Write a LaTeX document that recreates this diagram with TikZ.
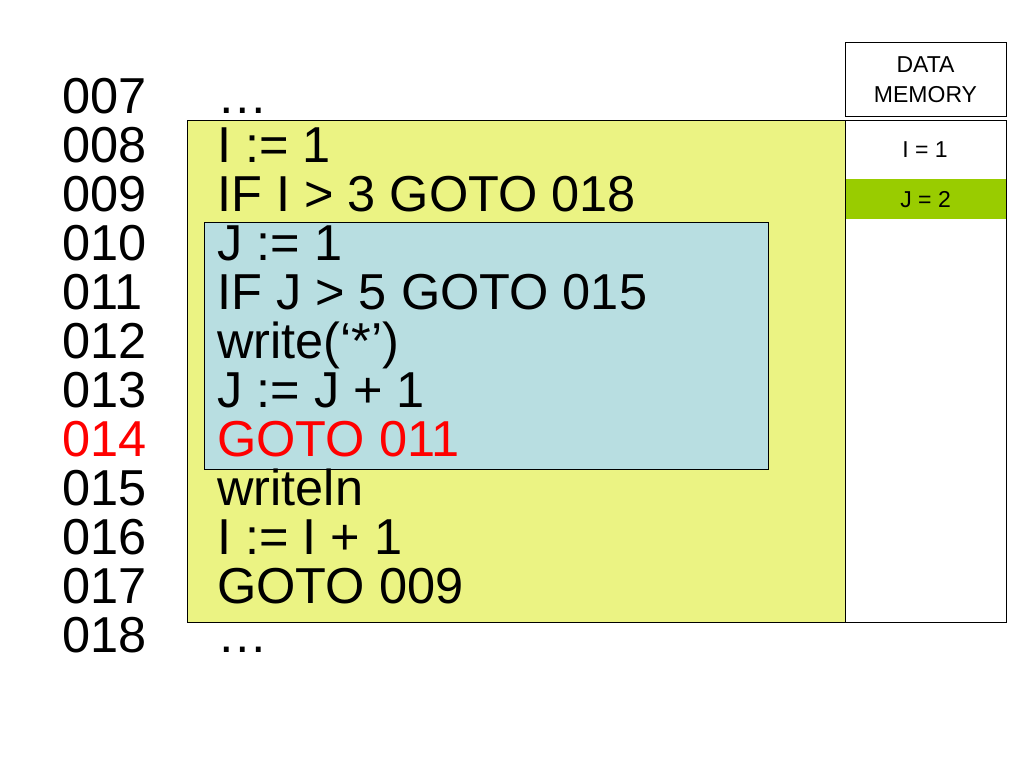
\documentclass[tikz,border=0pt]{standalone}
\usepackage{fontspec}
\setmainfont{Liberation Sans}
\definecolor{outeryellow}{HTML}{EBF383}
\definecolor{innerblue}{HTML}{B8DEE1}
\definecolor{memgreen}{HTML}{99CC00}
\definecolor{hotred}{HTML}{FF0000}
\begin{document}
\begin{tikzpicture}[x=1pt,y=-1pt,
  big/.style={anchor=base west,inner sep=0pt,font=\fontsize{50.5}{49}\selectfont},
  small/.style={inner sep=0pt,align=center,font=\fontsize{23}{30}\selectfont},
  frame/.style={draw=black,line width=0.8pt}]
\useasboundingbox (0,0) rectangle (1024,768);
\fill[white] (0,0) rectangle (1024,768);
% boxes
\node[frame,fill=outeryellow,minimum width=658pt,minimum height=502pt,anchor=north west,inner sep=0pt] (outer) at (187,120) {};
\node[frame,fill=innerblue,minimum width=564pt,minimum height=247pt,anchor=north west,inner sep=0pt] (inner) at (204,222) {};
\node[frame,fill=white,minimum width=161pt,minimum height=74pt,anchor=north west,inner sep=0pt] (head) at (845,42) {};
\node[frame,fill=white,minimum width=161pt,minimum height=502pt,anchor=north west,inner sep=0pt] (mem) at (845,120) {};
\node[fill=memgreen,minimum width=160pt,minimum height=40pt,anchor=north west,inner sep=0pt] (jrow) at (845.4,179) {};
\node[small] (headtxt) at (925.5,80) {DATA\\MEMORY};
\node[small] (ival) at (925,150) {I = 1};
\node[small] (jval) at (jrow.center) {J = 2};
% line numbers
\node[big] (n007) at (62,113) {007};
\node[big] (n008) at (62,162) {008};
\node[big] (n009) at (62,211) {009};
\node[big] (n010) at (62,260) {010};
\node[big] (n011) at (62,309) {011};
\node[big] (n012) at (62,358) {012};
\node[big] (n013) at (62,407) {013};
\node[big,text=hotred] (n014) at (62,456) {014};
\node[big] (n015) at (62,505) {015};
\node[big] (n016) at (62,554) {016};
\node[big] (n017) at (62,603) {017};
\node[big] (n018) at (62,652) {018};
% code
\node[big] (c007) at (217,113) {…};
\node[big] (c008) at (217,162) {I := 1};
\node[big] (c009) at (217,211) {IF I > 3 GOTO 018};
\node[big] (c010) at (217,260) {J := 1};
\node[big] (c011) at (217,309) {IF J > 5 GOTO 015};
\node[big] (c012) at (217,358) {write(‘*’)};
\node[big] (c013) at (217,407) {J := J + 1};
\node[big,text=hotred] (c014) at (217,456) {GOTO 011};
\node[big] (c015) at (217,505) {writeln};
\node[big] (c016) at (217,554) {I := I + 1};
\node[big] (c017) at (217,603) {GOTO 009};
\node[big] (c018) at (217,652) {…};
\end{tikzpicture}
\end{document}
